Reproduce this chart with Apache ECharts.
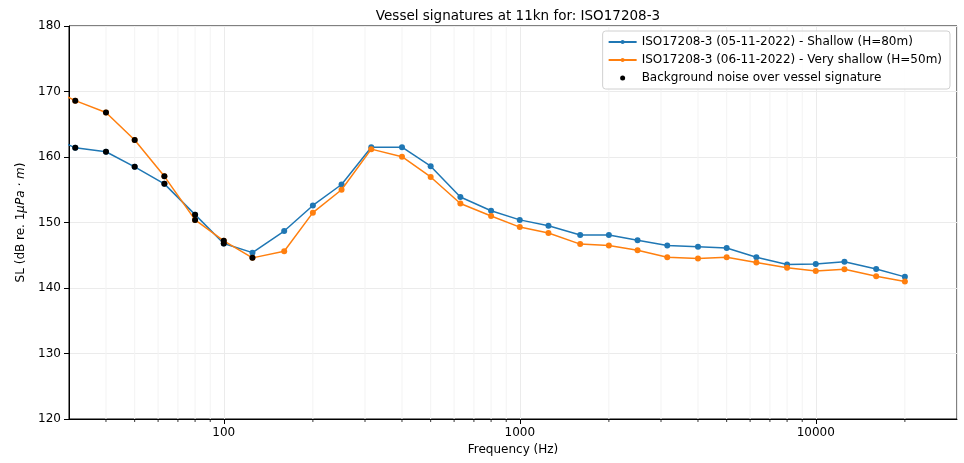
<!DOCTYPE html>
<html>
<head>
<meta charset="utf-8">
<script src="https://cdn.jsdelivr.net/npm/echarts@6/dist/echarts.min.js"></script>
<style>
	html, body { margin: 0; padding: 0; background: #fff; }
	#chart { width: 964px; height: 463px; }
</style>
</head>
<body>
<div id="chart"></div>
<script>
// third-octave band centre frequencies (Hz)
var freqs = [25, 31.5, 40, 50, 63, 80, 100, 125, 160, 200, 250, 315, 400, 500, 630, 800,
	1000, 1250, 1600, 2000, 2500, 3150, 4000, 5000, 6300, 8000, 10000, 12500, 16000, 20000];

// SL in dB re 1uPa.m
var shallow = [163.5, 161.4, 160.8, 158.5, 155.9, 151.2, 146.8, 145.4, 148.7, 152.6, 155.8, 161.5, 161.5, 158.6, 153.9, 151.8,
	150.4, 149.5, 148.1, 148.1, 147.3, 146.5, 146.3, 146.1, 144.7, 143.6, 143.65, 144.0, 142.9, 141.7];
var veryShallow = [170.8, 168.6, 166.8, 162.6, 157.05, 150.4, 147.2, 144.6, 145.6, 151.5, 155.0, 161.2, 160.05, 156.95, 152.9, 151.0,
	149.3, 148.4, 146.7, 146.5, 145.75, 144.7, 144.5, 144.7, 143.9, 143.1, 142.6, 142.85, 141.8, 141.0];

// bands where background noise is above the vessel signature
var noiseShallow = [25, 31.5, 40, 50, 63, 80, 100];
var noiseVeryShallow = [25, 31.5, 40, 50, 63, 80, 100, 125];

// matplotlib style minor ticks
var minorTicks = [40, 50, 60, 70, 80, 90, 200, 300, 400, 500, 600, 700, 800, 900,
	2000, 3000, 4000, 5000, 6000, 7000, 8000, 9000, 20000];

var nameBlue = 'ISO17208-3 (05-11-2022) - Shallow (H=80m)';
var nameOrange = 'ISO17208-3 (06-11-2022) - Very shallow (H=50m)';
var nameNoise = 'Background noise over vessel signature';

function pairs(vals) {
	return freqs.map(function(f, i) { return [f, vals[i]]; });
}
function noisePoints(list, vals) {
	return list.map(function(f) { return [f, vals[freqs.indexOf(f)]]; });
}

var font = 'DejaVu Sans';
var myChart = echarts.init(document.getElementById('chart'));
var option = {
	animation : false,
	textStyle : { fontFamily : font },
	title : {
		text : 'Vessel signatures at 11kn for: ISO17208-3',
		left : 513,
		textAlign : 'center',
		top : 4,
		textStyle : { fontFamily : font, fontSize : 13.5, fontWeight : 'normal', color : '#000' }
	},
	legend : {
		data : [ nameBlue, nameOrange, { name : nameNoise, icon : 'circle' } ],
		orient : 'vertical',
		right : 14,
		top : 31,
		align : 'left',
		itemWidth : 28,
		itemHeight : 5,
		itemGap : 4,
		padding : [ 4, 8, 4, 5 ],
		backgroundColor : 'rgba(255,255,255,0.85)',
		borderColor : '#d0d0d0',
		borderWidth : 1,
		borderRadius : 3,
		textStyle : { fontFamily : font, fontSize : 12, lineHeight : 14, color : '#000' }
	},
	grid : {
		left : 69,
		right : 7,
		top : 26,
		bottom : 44,
		show : true,
		borderColor : '#000',
		borderWidth : 1
	},
	xAxis : {
		type : 'log',
		logBase : 10,
		min : 30,
		max : 30000,
		name : 'Frequency (Hz)',
		nameLocation : 'middle',
		nameGap : 24,
		nameTextStyle : { fontFamily : font, fontSize : 12, color : '#000' },
		axisLine : { lineStyle : { color : '#000' } },
		axisTick : { length : 5, lineStyle : { color : '#000' } },
		axisLabel : {
			showMinLabel : false,
			showMaxLabel : false,
			formatter : function(v) { return String(Math.round(v)); },
			fontFamily : font, fontSize : 12, color : '#000', margin : 8
		},
		splitLine : { show : true, lineStyle : { color : '#ebebeb' } }
	},
	yAxis : {
		type : 'value',
		min : 120,
		max : 180,
		interval : 10,
		name : '{n|SL (dB re. 1}{i|μPa · m}{n|)}',
		nameLocation : 'middle',
		nameGap : 38,
		nameTextStyle : {
			rich : {
				n : { fontFamily : font, fontSize : 12, color : '#000' },
				i : { fontFamily : font, fontSize : 12, color : '#000', fontStyle : 'italic' }
			}
		},
		axisLine : { show : true, lineStyle : { color : '#000' } },
		axisTick : { show : true, length : 5, lineStyle : { color : '#000' } },
		axisLabel : { fontFamily : font, fontSize : 12, color : '#000', margin : 8 },
		splitLine : { show : true, lineStyle : { color : '#ebebeb' } }
	},
	series : [ {
		type : 'custom',
		silent : true,
		z : 1,
		data : minorTicks.map(function(f) { return [f, 120]; }),
		renderItem : function(params, api) {
			var top = api.coord([api.value(0), 180]);
			var bot = api.coord([api.value(0), 120]);
			return {
				type : 'group',
				children : [ {
					type : 'line',
					shape : { x1 : top[0], y1 : top[1], x2 : bot[0], y2 : bot[1] },
					style : { stroke : '#f3f3f3', lineWidth : 1 }
				}, {
					type : 'line',
					shape : { x1 : bot[0], y1 : bot[1], x2 : bot[0], y2 : bot[1] + 3 },
					style : { stroke : '#000', lineWidth : 0.8 }
				} ]
			};
		}
	}, {
		name : nameBlue,
		type : 'line',
		z : 3,
		data : pairs(shallow),
		symbol : 'circle',
		symbolSize : 6,
		showAllSymbol : true,
		itemStyle : { color : '#1f77b4' },
		lineStyle : { color : '#1f77b4', width : 1.5 }
	}, {
		name : nameOrange,
		type : 'line',
		z : 4,
		data : pairs(veryShallow),
		symbol : 'circle',
		symbolSize : 6,
		showAllSymbol : true,
		itemStyle : { color : '#ff7f0e' },
		lineStyle : { color : '#ff7f0e', width : 1.5 }
	}, {
		name : nameNoise,
		type : 'scatter',
		z : 5,
		symbolSize : 6,
		itemStyle : { color : '#000', opacity : 1 },
		data : noisePoints(noiseShallow, shallow).concat(noisePoints(noiseVeryShallow, veryShallow))
	} ]
};
myChart.setOption(option);
</script>
</body>
</html>
